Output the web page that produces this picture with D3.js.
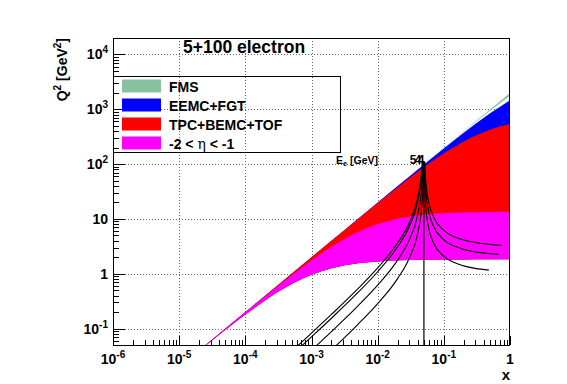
<!DOCTYPE html>
<html>
<head>
<meta charset="utf-8">
<script src="https://cdn.jsdelivr.net/npm/d3@7"></script>
<style>
body { margin: 0; background: #fff; }
text { font-family: "Liberation Sans", Arial, Helvetica, sans-serif; font-weight: bold; fill: #000; }
</style>
</head>
<body>
<script>

// sample x points for the acceptance band edges
var xGrid = [1e-5, 3e-5, 1e-4, 2e-4, 5e-4, 1e-3, 2e-3, 5e-3, 1e-2, 2e-2, 5e-2, 0.1, 0.2, 0.5, 1];

// Q^2 of band edges (electron eta = -2, -1, 1, 2, 2.5, 4)
var q2EtaM2  = [0.0198, 0.0581, 0.180, 0.328, 0.647, 0.956, 1.256, 1.548, 1.678, 1.751, 1.799, 1.815, 1.823, 1.828, 1.830];
var q2EtaM1  = [0.0200, 0.0597, 0.197, 0.389, 0.931, 1.743, 3.088, 5.751, 8.072, 10.11, 11.92, 12.68, 13.09, 13.35, 13.44];
var q2EtaP1  = [0.0200, 0.0600, 0.200, 0.400, 0.999, 1.995, 3.979, 9.867, 19.47, 37.95, 88.08, 157.4, 259.5, 424.9, 539.6];
var q2EtaP2  = [0.0200, 0.0600, 0.200, 0.400, 1.000, 1.999, 3.997, 9.982, 19.93, 39.71, 98.20, 192.9, 372.7, 845.2, 1464];
var q2EtaP25 = [0.0200, 0.0600, 0.200, 0.400, 1.000, 2.000, 3.999, 9.993, 19.97, 39.89, 99.33, 197.3, 389.5, 936.9, 1763];
var q2EtaP4  = [0.0200, 0.0600, 0.200, 0.400, 1.000, 2.000, 4.000, 10.00, 20.00, 39.99, 99.97, 199.9, 399.5, 996.7, 1987];

var legendNames  = ["FMS", "EEMC+FGT", "TPC+BEMC+TOF", "-2 < \u03b7 < -1"];
var legendColors = ["#86c1a0", "#0000ff", "#ff0000", "#ff00ff"];

// fixed scattered electron energy curves
var eeCurveX = [
  [5e-4, 1e-3, 2e-3, 5e-3, 1e-2, 2e-2, 3e-2, 4e-2, 4.5e-2, 4.7e-2, 0.0473],
  [5e-4, 1e-3, 2e-3, 5e-3, 1e-2, 2e-2, 3e-2, 4e-2, 4.5e-2, 4.7e-2, 0.0477],
  [5e-4, 1e-3, 2e-3, 5e-3, 1e-2, 2e-2, 3e-2, 4e-2, 4.5e-2, 4.7e-2, 0.0487],
  [5e-4, 1e-3, 2e-3, 5e-3, 1e-2, 2e-2, 3e-2, 4e-2, 4.5e-2, 4.7e-2, 0.0485, 0.0494],
  [0.0514, 0.0525, 0.055, 0.06, 0.07, 0.1, 0.15, 0.2, 0.3, 0.5, 0.75],
  [0.0510, 0.0525, 0.055, 0.06, 0.07, 0.1, 0.15, 0.2, 0.3, 0.5, 0.67],
  [0.0505, 0.0525, 0.055, 0.06, 0.07, 0.1, 0.15, 0.2, 0.3, 0.48]
];
var eeCurveQ2 = [
  [0.0381, 0.0825, 0.1807, 0.528, 1.273, 3.639, 8.53, 23.40, 53.27, 93.1, 110],
  [0.0325, 0.0704, 0.1540, 0.450, 1.085, 3.102, 7.27, 19.95, 45.4, 79.4, 110],
  [0.0185, 0.0401, 0.0878, 0.2565, 0.618, 1.767, 4.142, 11.36, 25.88, 45.2, 110],
  [0.00852, 0.01847, 0.0404, 0.1181, 0.2849, 0.8143, 1.908, 5.236, 11.92, 20.84, 43.1, 110],
  [110, 64.7, 33.9, 18.5, 10.8, 6.16, 4.62, 4.11, 3.70, 3.42, 3.30],
  [110, 43.7, 22.9, 12.5, 7.28, 4.16, 3.12, 2.77, 2.50, 2.31, 2.25],
  [110, 21.8, 11.4, 6.24, 3.64, 2.08, 1.56, 1.39, 1.25, 1.16]
];
var eeLabels = ["5", "4", "4"];
var eeLabelX = [0.0305, 0.0365, 0.0405];
var xPeak = 0.05;

var xMajor = [1e-6, 1e-5, 1e-4, 1e-3, 1e-2, 1e-1, 1];
var yMajor = [0.1, 1, 10, 100, 1000, 10000];

var width = 567, height = 384;
var pLeft = 113, pRight = 510, pTop = 38, pBottom = 345;

var x = d3.scaleLog().domain([1e-6, 1]).range([pLeft, pRight]);
var y = d3.scaleLog().domain([0.05, 2e4]).range([pBottom, pTop]);

var svg = d3.select('body').append('svg')
    .attr('width', width).attr('height', height)
    .style('background', '#fff');

svg.append('clipPath').attr('id', 'plotClip')
  .append('rect').attr('x', pLeft).attr('y', pTop)
  .attr('width', pRight - pLeft).attr('height', pBottom - pTop);

// grid
var gridX = svg.append('g').attr('transform', 'translate(0,' + pBottom + ')')
  .call(d3.axisBottom(x).tickValues(xMajor.slice(1, -1)).tickSize(-(pBottom - pTop)).tickFormat(''));
var gridY = svg.append('g').attr('transform', 'translate(' + pLeft + ',0)')
  .call(d3.axisLeft(y).tickValues(yMajor).tickSize(-(pRight - pLeft)).tickFormat(''));
[gridX, gridY].forEach(function(g) {
  g.select('.domain').remove();
  g.selectAll('line').attr('stroke', '#666').attr('stroke-dasharray', '1,2')
    .attr('shape-rendering', 'crispEdges');
});

// bands
var plot = svg.append('g').attr('clip-path', 'url(#plotClip)');

function band(lower, upper) {
  var pts = xGrid.map(function(v, i) { return {x: v, lo: lower[i], hi: upper[i]}; });
  return d3.area()
    .x(function(d) { return x(d.x); })
    .y0(function(d) { return y(d.lo); })
    .y1(function(d) { return y(d.hi); })
    .curve(d3.curveMonotoneX)(pts);
}

plot.append('path').attr('d', band(q2EtaP25, q2EtaP4)).attr('fill', legendColors[0]);
plot.append('path').attr('d', band(q2EtaM2, q2EtaP2)).attr('fill', legendColors[1]);
plot.append('path').attr('d', band(q2EtaM2, q2EtaP1)).attr('fill', legendColors[2]);
plot.append('path').attr('d', band(q2EtaM2, q2EtaM1)).attr('fill', legendColors[3]);

// electron energy curves
var line = d3.line()
  .x(function(d) { return x(d[0]); })
  .y(function(d) { return y(d[1]); })
  .curve(d3.curveMonotoneX);

eeCurveX.forEach(function(xs, k) {
  var pts = xs.map(function(v, i) { return [v, eeCurveQ2[k][i]]; });
  plot.append('path').attr('d', line(pts))
    .attr('fill', 'none').attr('stroke', '#000').attr('stroke-width', 1.1);
});

plot.append('line')
  .attr('x1', x(xPeak)).attr('x2', x(xPeak))
  .attr('y1', y(110)).attr('y2', pBottom)
  .attr('stroke', '#000').attr('stroke-width', 1.2);

eeLabels.forEach(function(t, i) {
  svg.append('text').attr('x', x(eeLabelX[i])).attr('y', y(100))
    .style('font-size', '12px').text(t);
});

var eeTitle = svg.append('text').attr('x', 336).attr('y', 164).style('font-size', '10.5px');
eeTitle.append('tspan').text('E');
eeTitle.append('tspan').attr('dy', 2).style('font-size', '7.5px').text('e');
eeTitle.append('tspan').attr('dy', -2).text(' [GeV]');

// ticks
var xMinor = x.ticks().filter(function(v) { return xMajor.indexOf(v) < 0; });
var yMinor = y.ticks().filter(function(v) { return yMajor.indexOf(v) < 0; });

function tickAxis(axis, tr) {
  var g = svg.append('g').attr('transform', tr).call(axis);
  g.select('.domain').remove();
  g.selectAll('line').attr('stroke', '#000').attr('shape-rendering', 'crispEdges');
}
tickAxis(d3.axisBottom(x).tickValues(xMajor).tickSize(-9).tickFormat(''), 'translate(0,' + pBottom + ')');
tickAxis(d3.axisBottom(x).tickValues(xMinor).tickSize(-5).tickFormat(''), 'translate(0,' + pBottom + ')');
tickAxis(d3.axisLeft(y).tickValues(yMajor).tickSize(-12).tickFormat(''), 'translate(' + pLeft + ',0)');
tickAxis(d3.axisLeft(y).tickValues(yMinor).tickSize(-6).tickFormat(''), 'translate(' + pLeft + ',0)');

// frame
svg.append('rect').attr('x', pLeft + 0.5).attr('y', pTop + 0.5)
  .attr('width', pRight - pLeft - 1).attr('height', pBottom - pTop)
  .attr('fill', 'none').attr('stroke', '#000');

// tick labels
function powLabel(sel, v) {
  var e = Math.round(Math.log10(v));
  if (e == 0) { sel.text('1'); return; }
  if (e == 1) { sel.text('10'); return; }
  sel.append('tspan').text('10');
  sel.append('tspan').attr('dy', -6).style('font-size', '10px').text(e);
}

xMajor.forEach(function(v) {
  var t = svg.append('text').attr('x', x(v)).attr('y', 364)
    .attr('text-anchor', 'middle').style('font-size', '14px');
  powLabel(t, v);
});
yMajor.forEach(function(v) {
  var t = svg.append('text').attr('x', 108).attr('y', y(v) + 5)
    .attr('text-anchor', 'end').style('font-size', '14px');
  powLabel(t, v);
});

// axis titles
svg.append('text').attr('x', 510).attr('y', 380).attr('text-anchor', 'end')
  .style('font-size', '15px').text('x');

var yt = svg.append('text').attr('transform', 'translate(67,' + pTop + ') rotate(-90)')
  .attr('text-anchor', 'end').style('font-size', '14px');
yt.append('tspan').text('Q');
yt.append('tspan').attr('dy', -6).style('font-size', '10px').text('2');
yt.append('tspan').attr('dy', 6).text(' [GeV');
yt.append('tspan').attr('dy', -6).style('font-size', '10px').text('2');
yt.append('tspan').attr('dy', 6).text(']');

// title
svg.append('text').attr('x', 183).attr('y', 53).style('font-size', '17.5px').text('5+100 electron');

// legend
var legend = svg.append('g');
legend.append('rect').attr('x', pLeft + 0.5).attr('y', 76.5).attr('width', 227).attr('height', 76)
  .attr('fill', 'none').attr('stroke', '#000');
var rowY = [86, 105, 124, 143];
legendNames.forEach(function(name, i) {
  legend.append('rect').attr('x', 122).attr('y', rowY[i] - 6.5).attr('width', 39).attr('height', 13)
    .attr('fill', legendColors[i]);
  var t = legend.append('text').attr('x', 169).attr('y', rowY[i] + 6).style('font-size', '14px');
  if (name.indexOf('\u03b7') >= 0) {
    var parts = name.split('\u03b7');
    t.append('tspan').text(parts[0]);
    t.append('tspan').style('font-weight', 'normal').style('font-family', '"DejaVu Serif", serif').text('\u03b7');
    t.append('tspan').text(parts[1]);
  } else {
    t.text(name);
  }
});

</script>
</body>
</html>
